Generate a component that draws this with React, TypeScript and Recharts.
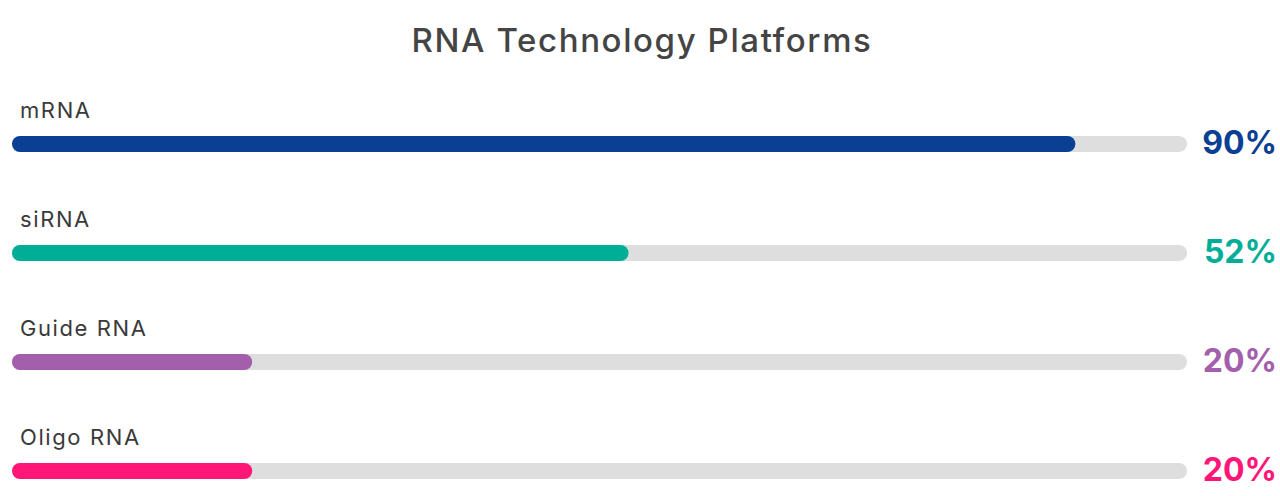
import React from 'react';
import { BarChart, Bar, XAxis, YAxis, Cell, LabelList, Rectangle } from 'recharts';

const categories = ['mRNA', 'siRNA', 'Guide RNA', 'Oligo RNA'];
const values = [90, 52, 20, 20];
const valueLabels = ['90%', '52%', '20%', '20%'];
const colors = ['#0A3F93', '#00AE98', '#A45FAC', '#FF1677'];

const data = categories.map((name, i) => ({ name, value: values[i], label: valueLabels[i] }));

const FONT = 'Inter, "Open Sans", sans-serif';
const CAP = 5; // rounded cap extends past the value origin
const TRACK_TRIM = 6;

const NameLabel = (props: any) => {
  const { y, index } = props;
  return (
    <text x={20} y={y - 18} fill="#3a3a3a" fontSize={22} letterSpacing={1.6} fontFamily={FONT}>
      {categories[index]}
    </text>
  );
};

const ValueLabel = (props: any) => {
  const { y, height, index } = props;
  return (
    <text
      x={1277}
      y={y + height / 2 + 10}
      fill={colors[index]}
      fontSize={32}
      fontWeight={700}
      fontFamily={FONT}
      textAnchor="end"
    >
      {valueLabels[index]}
    </text>
  );
};

const BarShape = (props: any) => (
  <Rectangle
    x={props.x - CAP}
    y={props.y}
    width={props.width + CAP}
    height={props.height}
    radius={8}
    fill={props.fill}
  />
);

const TrackShape = (props: any) => (
  <Rectangle
    key={`track-${props.index}`}
    x={props.x - CAP}
    y={props.y}
    width={props.width + CAP - TRACK_TRIM}
    height={props.height}
    radius={8}
    fill="#DEDEDE"
  />
);

export default function App() {
  return (
    <div style={{ position: 'absolute', left: 0, top: 0, width: 1280, height: 496, overflow: 'hidden', background: '#fff' }}>
      <div
        style={{
          position: 'absolute',
          left: 0,
          top: 20,
          width: 1284,
          textAlign: 'center',
          fontFamily: FONT,
          fontSize: 33,
          fontWeight: 500,
          letterSpacing: 1.6,
          color: '#444',
          lineHeight: '40px',
        }}
      >
        RNA Technology Platforms
      </div>
      <BarChart
        width={1280}
        height={525}
        data={data}
        layout="vertical"
        margin={{ top: 89, right: 87, bottom: 0, left: 17 }}
      >
        <XAxis type="number" domain={[0, 100]} hide />
        <YAxis type="category" dataKey="name" hide />
        <Bar
          dataKey="value"
          barSize={16}
          shape={BarShape}
          background={TrackShape as any}
          isAnimationActive={false}
        >
          {data.map((d, i) => (
            <Cell key={d.name} fill={colors[i]} />
          ))}
          <LabelList dataKey="name" content={<NameLabel />} />
          <LabelList dataKey="label" content={<ValueLabel />} />
        </Bar>
      </BarChart>
    </div>
  );
}
